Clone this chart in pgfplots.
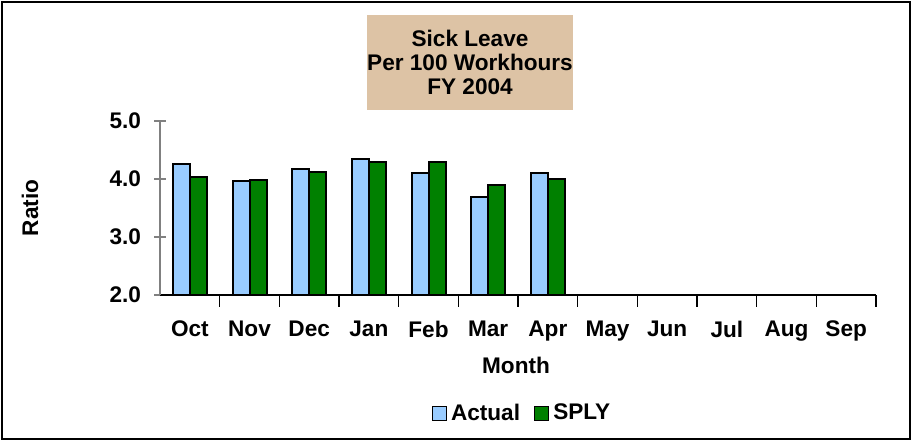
\documentclass[border=0pt]{standalone}
\usepackage{fontspec}
\setmainfont{Liberation Sans}
\usepackage{pgfplots}
\pgfplotsset{compat=1.18}
\definecolor{lblue}{HTML}{99CCFF}
\definecolor{dgreen}{HTML}{008000}
\definecolor{tan}{RGB}{221,195,165}
\newcommand{\cf}{\fontsize{11.3}{11.9}\selectfont\bfseries}
\begin{document}
\begin{tikzpicture}[x=0.5pt,y=0.5pt]
\useasboundingbox (0,0) rectangle (913,442);
\draw[black,line width=0.6pt] (2,3) rectangle (910,440);
\begin{axis}[
  at={(80pt,73.5pt)}, anchor=south west,
  scale only axis, width=358pt, height=87pt,
  xmin=-0.5, xmax=11.5, ymin=2, ymax=5,
  ybar=0pt, bar width=8.5pt,
  axis lines=left, axis line style={-},
  x axis line style={black,line width=0.6pt},
  y axis line style={gray,line width=0.6pt},
  xtick={0,...,11},
  xticklabels={Oct,Nov,Dec,Jan,Feb,Mar,Apr,May,Jun,Jul,Aug,Sep},
  major x tick style={draw=none},
  minor xtick={0.5,1.5,...,11.5},
  minor x tick style={black,line width=0.6pt},
  minor tick length=6pt,
  x tick label style={font=\cf, yshift=-3.5pt},
  ytick={2,3,4,5},
  y tick style={gray,line width=0.6pt},
  major tick length=6pt,
  ytick align=center, xtick align=outside,
  /pgf/number format/assume math mode=true,
  /pgf/number format/fixed, /pgf/number format/fixed zerofill, /pgf/number format/precision=1,
  yticklabel style={font=\cf, xshift=-3pt},
  legend style={at={(0.507,-0.68)}, anchor=center, legend columns=2, draw=none, font=\cf,
    /tikz/every even column/.append style={column sep=5pt}},
  legend image code/.code={\draw[#1,line width=0.6pt] (0pt,-3.5pt) rectangle (7pt,3.5pt);},
  clip=false,
]
\addplot[fill=lblue, draw=black, line width=1pt] coordinates {(0,4.26) (1,3.97) (2,4.18) (3,4.35) (4,4.10) (5,3.69) (6,4.10)};
\addplot[fill=dgreen, draw=black, line width=1pt] coordinates {(0,4.04) (1,3.98) (2,4.12) (3,4.30) (4,4.30) (5,3.90) (6,4.00)};
\legend{Actual,SPLY}
\end{axis}
\node[fill=tan, minimum width=103pt, minimum height=47.5pt, align=center, font=\cf, inner sep=0pt] at (470,379.5) {Sick Leave\\Per 100 Workhours\\FY 2004};
\node[font=\cf] at (516,77) {Month};
\node[font=\cf, rotate=90] at (30,234) {Ratio};
\end{tikzpicture}
\end{document}
